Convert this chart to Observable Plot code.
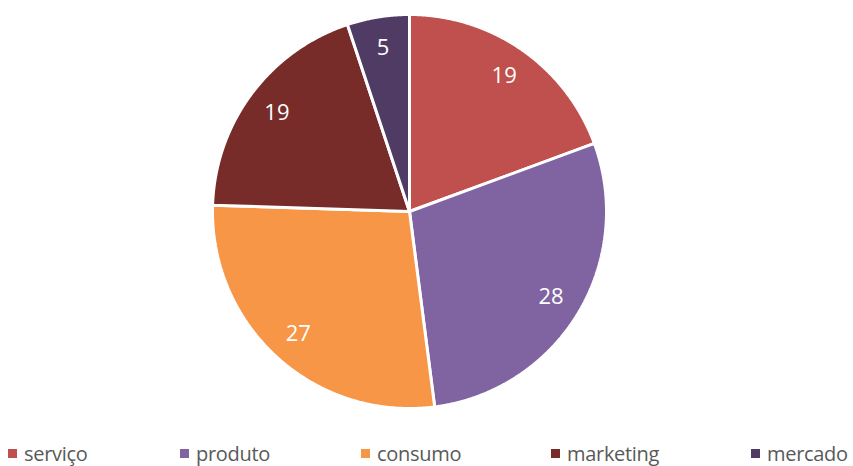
<!DOCTYPE html>
<html>
<head>
<meta charset="utf-8">
<script src="https://cdn.jsdelivr.net/npm/d3@7"></script>
<script src="https://cdn.jsdelivr.net/npm/@observablehq/plot@0.6"></script>
<style>
  html, body { margin: 0; padding: 0; background: #fff; }
  #wrap { width: 853px; height: 466px; position: relative; overflow: hidden; }
  .legend { position: absolute; top: 440px; left: 0; width: 853px; height: 26px;
    font-family: "Liberation Sans Narrow", "Open Sans", sans-serif; font-size: 20px; letter-spacing: -0.3px; color: #595959; }
  .item { position: absolute; top: 0; display: flex; align-items: center; height: 26px; white-space: nowrap; }
  .sw { width: 9px; height: 9px; margin-right: 7px; }
</style>
</head>
<body>
<div id="wrap"></div>
<script>
const categories = ["serviço", "produto", "consumo", "marketing", "mercado"];
const values = [19, 28, 27, 19, 5];
const colors = ["#C0504D", "#8064A2", "#F79646", "#772C2A", "#4F3B63"];
const legendX = [8, 180, 361, 551, 751];

const W = 853, H = 432, cx = 409, cy = 211, R = 197;

const arcs = d3.pie().sort(null).value(d => d.value)(categories.map((c, i) => ({cat: c, value: values[i]})));

const poly = [];
arcs.forEach(a => {
  const c = a.data.cat;
  poly.push({cat: c, x: 0, y: 0});
  const n = Math.max(2, Math.ceil((a.endAngle - a.startAngle) / 0.005));
  for (let k = 0; k <= n; k++) {
    const t = a.startAngle + (a.endAngle - a.startAngle) * k / n;
    poly.push({cat: c, x: Math.sin(t), y: Math.cos(t)});
  }
  poly.push({cat: c, x: 0, y: 0});
});

const labelR = 0.84;
const labels = arcs.map(a => {
  const t = (a.startAngle + a.endAngle) / 2;
  return {cat: a.data.cat, value: a.data.value, x: labelR * Math.sin(t), y: labelR * Math.cos(t)};
});

const chart = Plot.plot({
  width: W, height: H,
  margin: 0,
  x: {domain: [-cx / R, (W - cx) / R], axis: null},
  y: {domain: [-(H - cy) / R, cy / R], axis: null},
  color: {domain: categories, range: colors},
  style: {background: "white"},
  marks: [
    Plot.line(poly, {x: "x", y: "y", z: "cat", fill: "cat", stroke: "white", strokeWidth: 3, strokeLinejoin: "miter"}),
    Plot.text(labels, {x: "x", y: "y", text: d => String(d.value), fill: "white", fontSize: 22,
      fontFamily: "'Liberation Sans Narrow', 'Open Sans', sans-serif"})
  ]
});
const wrap = document.getElementById("wrap");
wrap.appendChild(chart);

const leg = document.createElement("div");
leg.className = "legend";
categories.forEach((c, i) => {
  const it = document.createElement("div");
  it.className = "item";
  it.style.left = legendX[i] + "px";
  it.innerHTML = `<span class="sw" style="background:${colors[i]}"></span><span>${c}</span>`;
  leg.appendChild(it);
});
wrap.appendChild(leg);
</script>
</body>
</html>
